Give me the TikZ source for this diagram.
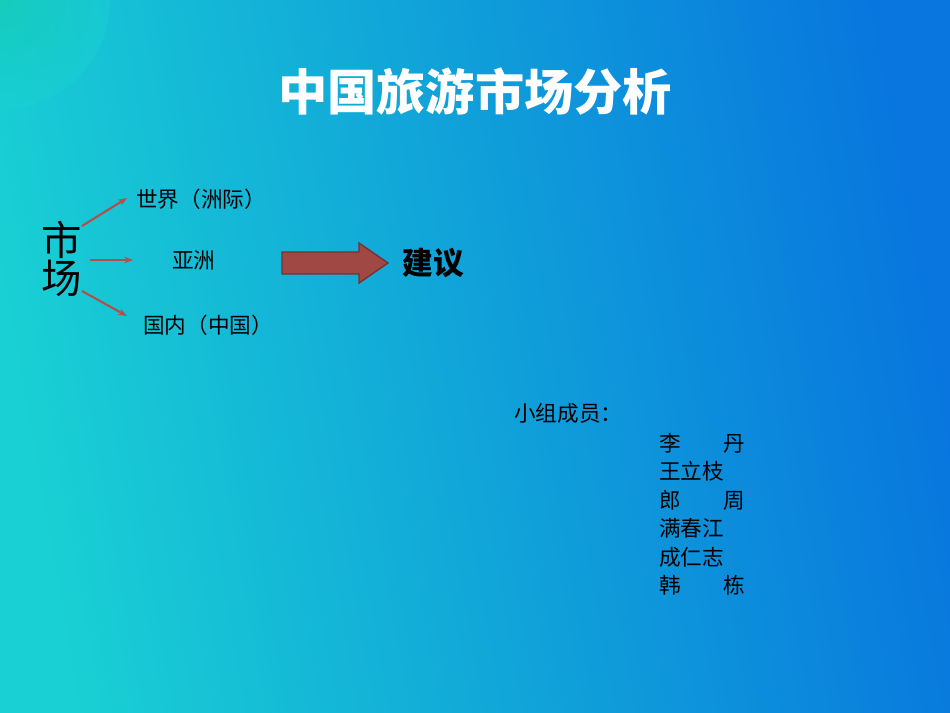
\documentclass[tikz,border=0pt]{standalone}
\usepackage{fontspec}
\usetikzlibrary{arrows.meta}
\setmainfont{Noto Sans CJK SC}
\begin{document}
\begin{tikzpicture}[x=0.02cm,y=-0.02cm,
  txt/.style={font=\fontsize{12.3}{14}\selectfont,anchor=west,inner sep=0},
  br/.style={draw={rgb,255:red,175;green,80;blue,75},line width=1.2pt,-{Stealth[length=5pt]}}]
\useasboundingbox (0,0) rectangle (950,713);
\shade[left color={rgb,255:red,25;green,208;blue,212},right color={rgb,255:red,8;green,118;blue,222},shading angle=100] (0,0) rectangle (950,713);
\begin{scope}
\clip (0,0) rectangle (950,713);
\shade[inner color={rgb,255:red,20;green,205;blue,165},outer color={rgb,255:red,25;green,208;blue,212},opacity=0.5] (0,0) circle (110);
\end{scope}
\node[font=\fontsize{28}{30}\bfseries\selectfont,text=white] (title) at (475,92) {中国旅游市场分析};
\node[font=\fontsize{23}{26}\selectfont,align=center,inner sep=0] (sc) at (62,259) {市\\[-4pt]场};
\node[txt] (w) at (136,199) {世界（洲际）};
\node[txt] (a) at (172,260) {亚洲};
\node[txt] (c) at (143,325) {国内（中国）};
\coordinate (w0) at (82,226); \coordinate (w1) at (127,198);
\coordinate (a0) at (90,260); \coordinate (a1) at (133,260);
\coordinate (c0) at (82,291); \coordinate (c1) at (127,316);
\draw[br] (w0) -- (w1);
\draw[br] (a0) -- (a1);
\draw[br] (c0) -- (c1);
\draw[fill={rgb,255:red,160;green,72;blue,68},draw={rgb,255:red,120;green,50;blue,48},line width=0.8pt]
  (282,252) -- (359,252) -- (359,243) -- (388,263) -- (359,283) -- (359,274) -- (282,274) -- cycle;
\node[txt,font=\fontsize{17.5}{19}\bfseries\selectfont] (jy) at (402,263) {建议};
\node[txt] (m) at (514,413) {小组成员：};
\foreach \n/\y in {{李\hspace{1.95em}丹}/443,{王立枝}/471,{郎\hspace{1.95em}周}/500,{满春江}/528,{成仁志}/557,{韩\hspace{1.95em}栋}/585}
  \node[txt] at (659,\y) {\n};
\end{tikzpicture}
\end{document}
